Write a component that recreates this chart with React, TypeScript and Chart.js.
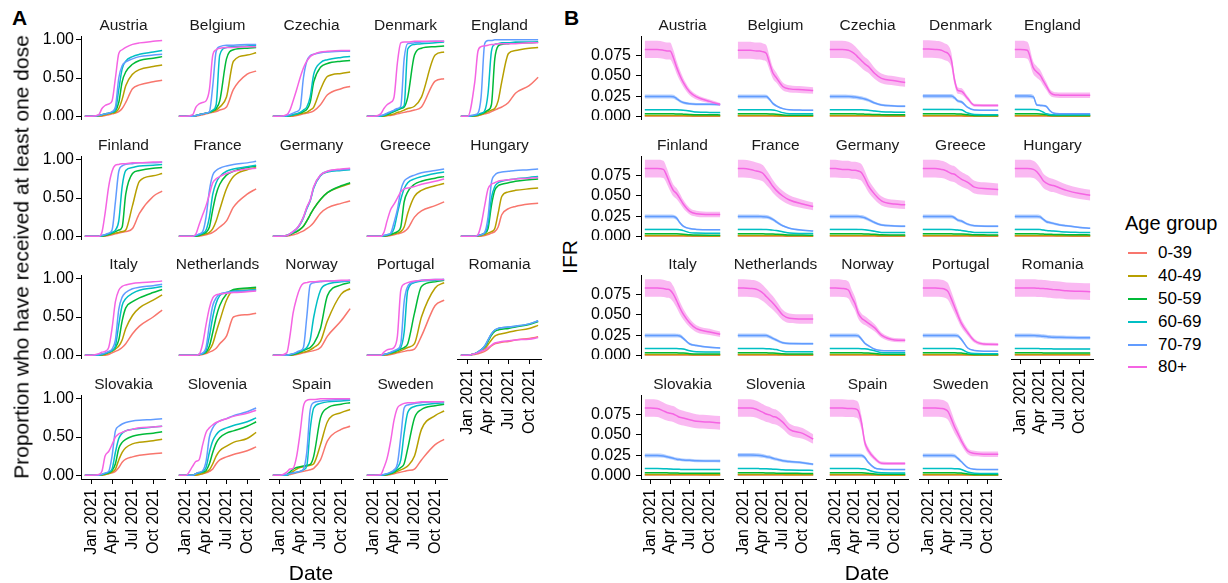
import React, { useEffect, useRef } from "react";
import { Chart, registerables } from "chart.js";

Chart.register(...registerables);

const FONT = "'Liberation Sans', Arial, Helvetica, sans-serif";
Chart.defaults.font.family = FONT;

// ---------- categories ----------
const AGE_GROUPS = ["0-39", "40-49", "50-59", "60-69", "70-79", "80+"];
const AGE_COLORS = ["#F8766D", "#B79F00", "#00BA38", "#00BFC4", "#619CFF", "#F564E3"];
const RIBBON_COLORS = [
  "rgba(248,118,109,0.45)",
  "rgba(183,159,0,0.45)",
  "rgba(0,186,56,0.45)",
  "rgba(0,191,196,0.45)",
  "rgba(97,156,255,0.45)",
  "rgba(245,100,227,0.45)",
];
const COUNTRIES = [
  "Austria", "Belgium", "Czechia", "Denmark", "England",
  "Finland", "France", "Germany", "Greece", "Hungary",
  "Italy", "Netherlands", "Norway", "Portugal", "Romania",
  "Slovakia", "Slovenia", "Spain", "Sweden",
];

// ---------- ticks (x in days since 1 Jan 2021) ----------
const X_TICKS = [0, 90, 181, 273];
const X_TICK_LABELS = ["Jan 2021", "Apr 2021", "Jul 2021", "Oct 2021"];
const Y_TICKS_A = [0, 0.25, 0.5, 0.75, 1];
const Y_TICKS_B = [0, 0.025, 0.05, 0.075];

// ---------- sample dates (days since 1 Jan 2021) ----------
const DAYS_A = [-31, 0, 31, 45, 59, 75, 90, 105, 120, 135, 151, 181, 212, 273, 313];
const DAYS_B = [-27, 0, 31, 59, 75, 90, 105, 120, 135, 151, 181, 212, 273, 322];

// relative half-width of the IFR uncertainty band per age group
const IFR_BAND_REL = [0.2, 0.15, 0.1, 0.08, 0.1, 0.13];

// ---------- Panel A: proportion with at least one dose [0-39,40-49,50-59,60-69,70-79,80+] ----------
const A_AUSTRIA = [
  [0, 0, 0, 0, 0.01, 0.02, 0.03, 0.04, 0.06, 0.10, 0.18, 0.36, 0.41, 0.45, 0.47],
  [0, 0, 0, 0.01, 0.02, 0.03, 0.04, 0.05, 0.10, 0.22, 0.40, 0.55, 0.61, 0.65, 0.67],
  [0, 0, 0.01, 0.02, 0.03, 0.04, 0.05, 0.07, 0.18, 0.45, 0.58, 0.68, 0.73, 0.76, 0.78],
  [0, 0, 0.01, 0.02, 0.03, 0.04, 0.05, 0.08, 0.35, 0.62, 0.72, 0.78, 0.81, 0.84, 0.86],
  [0, 0, 0.01, 0.02, 0.03, 0.04, 0.06, 0.12, 0.50, 0.66, 0.71, 0.75, 0.78, 0.80, 0.81],
  [0, 0, 0.02, 0.10, 0.14, 0.16, 0.20, 0.50, 0.82, 0.87, 0.90, 0.94, 0.96, 0.98, 0.99],
];
const A_BELGIUM = [
  [0, 0, 0, 0, 0.01, 0.02, 0.03, 0.04, 0.05, 0.06, 0.08, 0.12, 0.35, 0.55, 0.59],
  [0, 0, 0, 0.01, 0.02, 0.03, 0.04, 0.05, 0.06, 0.08, 0.12, 0.25, 0.72, 0.80, 0.83],
  [0, 0, 0, 0.01, 0.02, 0.03, 0.04, 0.05, 0.07, 0.10, 0.20, 0.75, 0.87, 0.89, 0.90],
  [0, 0, 0, 0.01, 0.02, 0.03, 0.04, 0.05, 0.08, 0.15, 0.80, 0.90, 0.91, 0.92, 0.93],
  [0, 0, 0, 0.01, 0.02, 0.03, 0.04, 0.06, 0.40, 0.85, 0.91, 0.93, 0.93, 0.94, 0.94],
  [0, 0, 0.02, 0.12, 0.16, 0.18, 0.20, 0.35, 0.80, 0.87, 0.89, 0.90, 0.90, 0.91, 0.91],
];
const A_CZECHIA = [
  [0, 0, 0, 0, 0, 0.01, 0.02, 0.03, 0.04, 0.05, 0.07, 0.15, 0.28, 0.36, 0.39],
  [0, 0, 0, 0, 0.01, 0.02, 0.03, 0.04, 0.05, 0.08, 0.12, 0.35, 0.52, 0.56, 0.58],
  [0, 0, 0, 0.01, 0.02, 0.03, 0.04, 0.06, 0.09, 0.18, 0.45, 0.64, 0.69, 0.72, 0.73],
  [0, 0, 0, 0.01, 0.02, 0.03, 0.05, 0.08, 0.12, 0.25, 0.55, 0.70, 0.74, 0.77, 0.78],
  [0, 0, 0.01, 0.02, 0.04, 0.06, 0.10, 0.50, 0.72, 0.79, 0.81, 0.83, 0.84, 0.85, 0.85],
  [0, 0, 0.02, 0.08, 0.20, 0.35, 0.50, 0.63, 0.72, 0.78, 0.81, 0.84, 0.85, 0.86, 0.86],
];
const A_DENMARK = [
  [0, 0, 0, 0, 0.01, 0.01, 0.02, 0.03, 0.04, 0.05, 0.06, 0.08, 0.12, 0.46, 0.49],
  [0, 0, 0, 0, 0.01, 0.02, 0.03, 0.05, 0.06, 0.08, 0.10, 0.13, 0.25, 0.80, 0.84],
  [0, 0, 0, 0.01, 0.02, 0.04, 0.06, 0.08, 0.10, 0.12, 0.25, 0.80, 0.89, 0.91, 0.92],
  [0, 0, 0, 0.01, 0.03, 0.05, 0.07, 0.09, 0.11, 0.14, 0.88, 0.94, 0.95, 0.96, 0.97],
  [0, 0, 0.01, 0.02, 0.04, 0.06, 0.08, 0.10, 0.13, 0.75, 0.95, 0.96, 0.97, 0.98, 0.98],
  [0, 0, 0.03, 0.10, 0.15, 0.18, 0.25, 0.70, 0.96, 0.97, 0.97, 0.98, 0.98, 0.98, 0.98],
];
const A_ENGLAND = [
  [0, 0, 0, 0.01, 0.02, 0.03, 0.04, 0.06, 0.08, 0.10, 0.12, 0.18, 0.30, 0.40, 0.51],
  [0, 0, 0, 0.01, 0.02, 0.04, 0.06, 0.08, 0.10, 0.20, 0.45, 0.82, 0.86, 0.89, 0.90],
  [0, 0, 0.01, 0.02, 0.03, 0.05, 0.08, 0.15, 0.75, 0.92, 0.94, 0.95, 0.96, 0.96, 0.97],
  [0, 0, 0.01, 0.02, 0.04, 0.07, 0.30, 0.85, 0.94, 0.95, 0.96, 0.96, 0.97, 0.97, 0.97],
  [0, 0, 0.02, 0.04, 0.25, 0.95, 0.99, 0.99, 1.0, 1.0, 1.0, 1.0, 1.0, 1.0, 1.0],
  [0, 0, 0.45, 0.85, 0.91, 0.92, 0.93, 0.94, 0.94, 0.95, 0.95, 0.95, 0.95, 0.96, 0.96],
];
const A_FINLAND = [
  [0, 0, 0, 0, 0, 0.01, 0.02, 0.03, 0.04, 0.05, 0.06, 0.10, 0.30, 0.52, 0.59],
  [0, 0, 0, 0, 0.01, 0.02, 0.03, 0.04, 0.05, 0.06, 0.08, 0.40, 0.72, 0.79, 0.82],
  [0, 0, 0, 0, 0.01, 0.02, 0.04, 0.06, 0.08, 0.12, 0.55, 0.82, 0.86, 0.89, 0.90],
  [0, 0, 0, 0.01, 0.02, 0.03, 0.05, 0.08, 0.20, 0.65, 0.86, 0.90, 0.92, 0.93, 0.94],
  [0, 0, 0, 0.01, 0.02, 0.04, 0.08, 0.45, 0.85, 0.92, 0.94, 0.95, 0.96, 0.96, 0.97],
  [0, 0, 0, 0.05, 0.30, 0.65, 0.85, 0.93, 0.94, 0.95, 0.95, 0.96, 0.96, 0.97, 0.97],
];
const A_FRANCE = [
  [0, 0, 0, 0, 0, 0.01, 0.02, 0.03, 0.05, 0.08, 0.12, 0.20, 0.38, 0.55, 0.62],
  [0, 0, 0, 0, 0.01, 0.02, 0.03, 0.05, 0.10, 0.20, 0.35, 0.62, 0.78, 0.87, 0.90],
  [0, 0, 0, 0, 0.01, 0.03, 0.05, 0.12, 0.35, 0.55, 0.68, 0.80, 0.85, 0.90, 0.92],
  [0, 0, 0, 0.01, 0.02, 0.04, 0.08, 0.25, 0.55, 0.70, 0.78, 0.85, 0.88, 0.91, 0.93],
  [0, 0, 0, 0.01, 0.03, 0.06, 0.25, 0.60, 0.80, 0.86, 0.89, 0.92, 0.94, 0.96, 0.98],
  [0, 0, 0, 0.03, 0.15, 0.28, 0.40, 0.55, 0.70, 0.75, 0.78, 0.82, 0.85, 0.88, 0.89],
];
const A_GERMANY = [
  [0, 0, 0, 0.01, 0.02, 0.03, 0.05, 0.07, 0.10, 0.13, 0.18, 0.30, 0.37, 0.43, 0.46],
  [0, 0, 0.01, 0.02, 0.04, 0.06, 0.09, 0.13, 0.20, 0.28, 0.36, 0.48, 0.57, 0.65, 0.69],
  [0, 0, 0.01, 0.02, 0.04, 0.06, 0.09, 0.13, 0.20, 0.28, 0.36, 0.48, 0.57, 0.66, 0.70],
  [0, 0, 0.01, 0.03, 0.05, 0.09, 0.15, 0.24, 0.36, 0.46, 0.63, 0.79, 0.84, 0.86, 0.87],
  [0, 0, 0.01, 0.03, 0.06, 0.10, 0.16, 0.25, 0.37, 0.47, 0.64, 0.80, 0.85, 0.87, 0.88],
  [0, 0, 0.01, 0.03, 0.06, 0.10, 0.16, 0.25, 0.38, 0.47, 0.65, 0.80, 0.85, 0.88, 0.89],
];
const A_GREECE = [
  [0, 0, 0, 0, 0, 0.01, 0.02, 0.03, 0.04, 0.06, 0.10, 0.25, 0.33, 0.40, 0.45],
  [0, 0, 0, 0, 0.01, 0.02, 0.03, 0.04, 0.06, 0.12, 0.30, 0.52, 0.60, 0.66, 0.69],
  [0, 0, 0, 0, 0.01, 0.02, 0.04, 0.06, 0.12, 0.45, 0.58, 0.68, 0.72, 0.76, 0.78],
  [0, 0, 0, 0.01, 0.02, 0.03, 0.10, 0.30, 0.48, 0.62, 0.70, 0.75, 0.78, 0.82, 0.84],
  [0, 0, 0, 0.01, 0.02, 0.04, 0.18, 0.35, 0.60, 0.72, 0.76, 0.80, 0.83, 0.86, 0.88],
  [0, 0, 0, 0.05, 0.20, 0.35, 0.42, 0.50, 0.58, 0.62, 0.63, 0.65, 0.68, 0.72, 0.75],
];
const A_HUNGARY = [
  [0, 0, 0, 0, 0, 0.01, 0.02, 0.04, 0.06, 0.12, 0.28, 0.36, 0.39, 0.42, 0.43],
  [0, 0, 0, 0, 0.01, 0.02, 0.04, 0.06, 0.10, 0.30, 0.52, 0.58, 0.60, 0.62, 0.63],
  [0, 0, 0, 0.01, 0.02, 0.04, 0.10, 0.40, 0.60, 0.66, 0.68, 0.70, 0.72, 0.74, 0.75],
  [0, 0, 0, 0.01, 0.02, 0.04, 0.15, 0.50, 0.65, 0.70, 0.72, 0.74, 0.75, 0.77, 0.78],
  [0, 0, 0, 0.01, 0.02, 0.05, 0.25, 0.70, 0.80, 0.83, 0.84, 0.85, 0.86, 0.87, 0.88],
  [0, 0, 0, 0.02, 0.15, 0.40, 0.62, 0.68, 0.70, 0.72, 0.73, 0.74, 0.75, 0.76, 0.77],
];
const A_ITALY = [
  [0, 0, 0, 0, 0, 0.01, 0.03, 0.05, 0.07, 0.10, 0.15, 0.28, 0.38, 0.50, 0.59],
  [0, 0, 0, 0, 0.01, 0.03, 0.05, 0.08, 0.12, 0.20, 0.35, 0.52, 0.62, 0.72, 0.79],
  [0, 0, 0, 0.01, 0.02, 0.04, 0.06, 0.10, 0.20, 0.45, 0.62, 0.70, 0.75, 0.82, 0.86],
  [0, 0, 0, 0.01, 0.02, 0.04, 0.06, 0.12, 0.40, 0.65, 0.74, 0.81, 0.85, 0.88, 0.90],
  [0, 0, 0.01, 0.02, 0.03, 0.05, 0.08, 0.20, 0.60, 0.76, 0.82, 0.87, 0.89, 0.91, 0.93],
  [0, 0, 0.02, 0.04, 0.05, 0.10, 0.35, 0.70, 0.85, 0.90, 0.92, 0.94, 0.95, 0.96, 0.97],
];
const A_NETHERLANDS = [
  [0, 0, 0, 0, 0, 0.01, 0.02, 0.04, 0.06, 0.09, 0.15, 0.25, 0.50, 0.53, 0.55],
  [0, 0, 0, 0, 0.01, 0.02, 0.03, 0.07, 0.15, 0.30, 0.45, 0.72, 0.85, 0.87, 0.87],
  [0, 0, 0, 0, 0.01, 0.02, 0.04, 0.12, 0.30, 0.50, 0.65, 0.80, 0.86, 0.88, 0.89],
  [0, 0, 0, 0, 0.01, 0.02, 0.06, 0.25, 0.50, 0.68, 0.78, 0.82, 0.84, 0.85, 0.86],
  [0, 0, 0, 0, 0.01, 0.03, 0.10, 0.40, 0.65, 0.75, 0.80, 0.82, 0.83, 0.84, 0.85],
  [0, 0, 0, 0, 0.01, 0.15, 0.40, 0.62, 0.75, 0.79, 0.80, 0.81, 0.82, 0.83, 0.84],
];
const A_NORWAY = [
  [0, 0, 0, 0, 0, 0.01, 0.02, 0.03, 0.04, 0.05, 0.06, 0.10, 0.25, 0.45, 0.61],
  [0, 0, 0, 0, 0.01, 0.02, 0.03, 0.04, 0.05, 0.07, 0.10, 0.18, 0.45, 0.80, 0.87],
  [0, 0, 0, 0, 0.01, 0.02, 0.04, 0.06, 0.08, 0.10, 0.15, 0.35, 0.78, 0.92, 0.95],
  [0, 0, 0, 0.01, 0.02, 0.03, 0.05, 0.07, 0.10, 0.20, 0.50, 0.85, 0.93, 0.96, 0.97],
  [0, 0, 0, 0.01, 0.02, 0.04, 0.06, 0.10, 0.50, 0.92, 0.95, 0.96, 0.97, 0.97, 0.98],
  [0, 0, 0.03, 0.25, 0.55, 0.75, 0.88, 0.94, 0.95, 0.96, 0.96, 0.97, 0.97, 0.98, 0.98],
];
const A_PORTUGAL = [
  [0, 0, 0, 0, 0, 0.01, 0.02, 0.03, 0.04, 0.05, 0.06, 0.08, 0.25, 0.65, 0.72],
  [0, 0, 0, 0, 0.01, 0.02, 0.03, 0.04, 0.06, 0.08, 0.10, 0.15, 0.50, 0.88, 0.95],
  [0, 0, 0, 0.01, 0.02, 0.03, 0.04, 0.06, 0.08, 0.10, 0.15, 0.55, 0.90, 0.96, 0.98],
  [0, 0, 0, 0.01, 0.02, 0.03, 0.05, 0.07, 0.10, 0.30, 0.85, 0.95, 0.97, 0.98, 0.99],
  [0, 0, 0, 0.01, 0.02, 0.04, 0.06, 0.08, 0.15, 0.70, 0.90, 0.96, 0.98, 0.99, 0.99],
  [0, 0, 0, 0.04, 0.07, 0.08, 0.10, 0.25, 0.85, 0.93, 0.95, 0.97, 0.98, 0.99, 0.99],
];
const A_ROMANIA = [
  [0, 0, 0.01, 0.02, 0.03, 0.05, 0.08, 0.12, 0.15, 0.16, 0.17, 0.18, 0.20, 0.22, 0.24],
  [0, 0, 0.02, 0.03, 0.05, 0.08, 0.14, 0.20, 0.25, 0.27, 0.28, 0.30, 0.32, 0.35, 0.39],
  [0, 0, 0.02, 0.04, 0.07, 0.11, 0.18, 0.26, 0.31, 0.33, 0.34, 0.35, 0.37, 0.40, 0.44],
  [0, 0, 0.02, 0.04, 0.07, 0.12, 0.20, 0.28, 0.33, 0.35, 0.36, 0.37, 0.38, 0.41, 0.45],
  [0, 0, 0.02, 0.04, 0.07, 0.12, 0.20, 0.28, 0.33, 0.35, 0.36, 0.37, 0.38, 0.41, 0.45],
  [0, 0, 0.02, 0.03, 0.05, 0.07, 0.10, 0.13, 0.16, 0.17, 0.18, 0.19, 0.20, 0.21, 0.23],
];
const A_SLOVAKIA = [
  [0, 0, 0, 0, 0.01, 0.02, 0.03, 0.05, 0.10, 0.17, 0.21, 0.24, 0.26, 0.28, 0.29],
  [0, 0, 0, 0, 0.01, 0.02, 0.04, 0.08, 0.20, 0.30, 0.36, 0.41, 0.43, 0.45, 0.47],
  [0, 0, 0, 0.01, 0.02, 0.03, 0.06, 0.15, 0.35, 0.43, 0.47, 0.51, 0.53, 0.55, 0.57],
  [0, 0, 0, 0.01, 0.02, 0.04, 0.08, 0.30, 0.48, 0.55, 0.58, 0.60, 0.61, 0.63, 0.64],
  [0, 0, 0, 0.01, 0.03, 0.05, 0.25, 0.58, 0.64, 0.67, 0.69, 0.71, 0.72, 0.73, 0.74],
  [0, 0, 0.01, 0.05, 0.25, 0.31, 0.40, 0.50, 0.54, 0.56, 0.58, 0.60, 0.62, 0.63, 0.64],
];
const A_SLOVENIA = [
  [0, 0, 0, 0, 0.01, 0.02, 0.03, 0.05, 0.08, 0.15, 0.20, 0.24, 0.27, 0.32, 0.37],
  [0, 0, 0, 0, 0.01, 0.02, 0.04, 0.07, 0.15, 0.25, 0.32, 0.38, 0.43, 0.48, 0.56],
  [0, 0, 0, 0.02, 0.03, 0.04, 0.06, 0.15, 0.30, 0.42, 0.49, 0.55, 0.58, 0.64, 0.70],
  [0, 0, 0, 0.02, 0.03, 0.05, 0.10, 0.30, 0.45, 0.53, 0.58, 0.62, 0.65, 0.70, 0.75],
  [0, 0, 0, 0.02, 0.04, 0.06, 0.18, 0.50, 0.62, 0.68, 0.71, 0.74, 0.78, 0.83, 0.88],
  [0, 0, 0.12, 0.18, 0.20, 0.40, 0.56, 0.62, 0.66, 0.69, 0.71, 0.74, 0.77, 0.81, 0.85],
];
const A_SPAIN = [
  [0, 0, 0, 0.01, 0.02, 0.03, 0.04, 0.05, 0.06, 0.07, 0.09, 0.20, 0.45, 0.60, 0.64],
  [0, 0, 0, 0.02, 0.05, 0.08, 0.10, 0.11, 0.12, 0.13, 0.15, 0.40, 0.70, 0.82, 0.86],
  [0, 0, 0.01, 0.04, 0.08, 0.10, 0.11, 0.12, 0.13, 0.14, 0.25, 0.75, 0.88, 0.93, 0.95],
  [0, 0, 0, 0.02, 0.03, 0.04, 0.05, 0.07, 0.12, 0.60, 0.88, 0.94, 0.96, 0.97, 0.98],
  [0, 0, 0.01, 0.02, 0.03, 0.04, 0.05, 0.08, 0.30, 0.85, 0.95, 0.97, 0.98, 0.99, 0.99],
  [0, 0, 0.04, 0.08, 0.09, 0.25, 0.55, 0.90, 0.98, 0.99, 0.99, 1.0, 1.0, 1.0, 1.0],
];
const A_SWEDEN = [
  [0, 0, 0, 0, 0, 0.01, 0.02, 0.03, 0.04, 0.05, 0.06, 0.08, 0.20, 0.40, 0.47],
  [0, 0, 0, 0, 0.01, 0.02, 0.03, 0.05, 0.07, 0.09, 0.12, 0.25, 0.60, 0.78, 0.84],
  [0, 0, 0, 0, 0.01, 0.02, 0.04, 0.07, 0.10, 0.15, 0.35, 0.75, 0.86, 0.91, 0.93],
  [0, 0, 0, 0.01, 0.02, 0.03, 0.05, 0.10, 0.20, 0.55, 0.82, 0.90, 0.92, 0.94, 0.95],
  [0, 0, 0, 0.01, 0.02, 0.04, 0.07, 0.15, 0.50, 0.88, 0.92, 0.94, 0.95, 0.96, 0.96],
  [0, 0, 0.01, 0.10, 0.22, 0.45, 0.72, 0.88, 0.92, 0.94, 0.95, 0.95, 0.96, 0.96, 0.96],
];

// ---------- Panel B: IFR [0-39,40-49,50-59,60-69,70-79,80+] ----------
const B_AUSTRIA = [
  [0.0002, 0.0002, 0.0002, 0.0002, 0.0002, 0.0002, 0.0002, 0.0002, 0.0002, 0.0002, 0.0002, 0.0001, 0.0001, 0.0001],
  [0.0009, 0.0009, 0.0009, 0.0009, 0.0009, 0.0009, 0.0009, 0.0009, 0.0009, 0.0008, 0.0007, 0.0006, 0.0005, 0.0005],
  [0.0030, 0.0030, 0.0030, 0.0030, 0.0030, 0.0030, 0.0030, 0.0029, 0.0028, 0.0026, 0.0022, 0.0019, 0.0018, 0.0017],
  [0.0082, 0.0082, 0.0082, 0.0082, 0.0082, 0.0082, 0.0081, 0.0080, 0.0078, 0.0075, 0.0065, 0.0052, 0.0048, 0.0047],
  [0.0245, 0.0245, 0.0245, 0.0245, 0.0245, 0.0245, 0.0243, 0.0220, 0.0190, 0.0170, 0.0155, 0.0150, 0.0148, 0.0145],
  [0.0830, 0.0830, 0.0830, 0.0820, 0.0810, 0.0810, 0.0730, 0.0610, 0.0510, 0.0420, 0.0300, 0.0240, 0.0185, 0.0145],
];
const B_BELGIUM = [
  [0.0002, 0.0002, 0.0002, 0.0002, 0.0002, 0.0002, 0.0002, 0.0002, 0.0002, 0.0002, 0.0001, 0.0001, 0.0001, 0.0001],
  [0.0009, 0.0009, 0.0009, 0.0009, 0.0009, 0.0009, 0.0009, 0.0009, 0.0008, 0.0007, 0.0005, 0.0004, 0.0004, 0.0004],
  [0.0030, 0.0030, 0.0030, 0.0030, 0.0030, 0.0030, 0.0030, 0.0029, 0.0027, 0.0024, 0.0016, 0.0013, 0.0012, 0.0012],
  [0.0082, 0.0082, 0.0082, 0.0082, 0.0082, 0.0082, 0.0082, 0.0081, 0.0078, 0.0070, 0.0045, 0.0032, 0.0030, 0.0030],
  [0.0245, 0.0245, 0.0245, 0.0245, 0.0245, 0.0245, 0.0244, 0.0210, 0.0160, 0.0130, 0.0095, 0.0080, 0.0076, 0.0075],
  [0.0820, 0.0820, 0.0820, 0.0810, 0.0810, 0.0800, 0.0780, 0.0660, 0.0540, 0.0480, 0.0370, 0.0340, 0.0330, 0.0320],
];
const B_CZECHIA = [
  [0.0002, 0.0002, 0.0002, 0.0002, 0.0002, 0.0002, 0.0002, 0.0002, 0.0002, 0.0002, 0.0002, 0.0002, 0.0001, 0.0001],
  [0.0009, 0.0009, 0.0009, 0.0009, 0.0009, 0.0009, 0.0009, 0.0009, 0.0009, 0.0008, 0.0007, 0.0006, 0.0006, 0.0006],
  [0.0030, 0.0030, 0.0030, 0.0030, 0.0030, 0.0030, 0.0029, 0.0028, 0.0026, 0.0024, 0.0021, 0.0020, 0.0019, 0.0019],
  [0.0082, 0.0082, 0.0082, 0.0082, 0.0082, 0.0082, 0.0081, 0.0080, 0.0078, 0.0075, 0.0065, 0.0055, 0.0051, 0.0050],
  [0.0245, 0.0245, 0.0245, 0.0244, 0.0242, 0.0238, 0.0232, 0.0225, 0.0215, 0.0200, 0.0165, 0.0140, 0.0128, 0.0123],
  [0.0830, 0.0830, 0.0830, 0.0820, 0.0800, 0.0770, 0.0730, 0.0690, 0.0650, 0.0620, 0.0530, 0.0470, 0.0440, 0.0420],
];
const B_DENMARK = [
  [0.0002, 0.0002, 0.0002, 0.0002, 0.0002, 0.0002, 0.0002, 0.0002, 0.0002, 0.0002, 0.0001, 0.0001, 0.0001, 0.0001],
  [0.0009, 0.0009, 0.0009, 0.0009, 0.0009, 0.0009, 0.0009, 0.0009, 0.0009, 0.0009, 0.0007, 0.0004, 0.0003, 0.0003],
  [0.0030, 0.0030, 0.0030, 0.0030, 0.0030, 0.0030, 0.0030, 0.0030, 0.0029, 0.0028, 0.0018, 0.0010, 0.0009, 0.0009],
  [0.0085, 0.0085, 0.0085, 0.0085, 0.0085, 0.0085, 0.0085, 0.0084, 0.0083, 0.0080, 0.0040, 0.0022, 0.0020, 0.0020],
  [0.0250, 0.0250, 0.0250, 0.0250, 0.0250, 0.0250, 0.0250, 0.0230, 0.0190, 0.0180, 0.0110, 0.0078, 0.0075, 0.0075],
  [0.0835, 0.0835, 0.0830, 0.0820, 0.0800, 0.0780, 0.0700, 0.0450, 0.0320, 0.0310, 0.0220, 0.0137, 0.0135, 0.0135],
];
const B_ENGLAND = [
  [0.0002, 0.0002, 0.0002, 0.0002, 0.0002, 0.0002, 0.0002, 0.0002, 0.0001, 0.0001, 0.0001, 0.0001, 0.0001, 0.0001],
  [0.0009, 0.0009, 0.0009, 0.0009, 0.0009, 0.0009, 0.0009, 0.0008, 0.0007, 0.0005, 0.0004, 0.0003, 0.0003, 0.0003],
  [0.0030, 0.0030, 0.0030, 0.0030, 0.0030, 0.0029, 0.0026, 0.0020, 0.0012, 0.0010, 0.0009, 0.0009, 0.0009, 0.0009],
  [0.0085, 0.0085, 0.0085, 0.0084, 0.0082, 0.0070, 0.0050, 0.0030, 0.0022, 0.0020, 0.0020, 0.0020, 0.0020, 0.0020],
  [0.0250, 0.0250, 0.0250, 0.0240, 0.0140, 0.0135, 0.0132, 0.0120, 0.0070, 0.0040, 0.0030, 0.0030, 0.0030, 0.0030],
  [0.0830, 0.0830, 0.0820, 0.0600, 0.0550, 0.0510, 0.0440, 0.0370, 0.0300, 0.0270, 0.0262, 0.0260, 0.0260, 0.0260],
];
const B_FINLAND = [
  [0.0002, 0.0002, 0.0002, 0.0002, 0.0002, 0.0002, 0.0002, 0.0002, 0.0002, 0.0002, 0.0002, 0.0001, 0.0001, 0.0001],
  [0.0009, 0.0009, 0.0009, 0.0009, 0.0009, 0.0009, 0.0009, 0.0009, 0.0009, 0.0008, 0.0007, 0.0005, 0.0004, 0.0004],
  [0.0030, 0.0030, 0.0030, 0.0030, 0.0030, 0.0030, 0.0030, 0.0030, 0.0029, 0.0026, 0.0018, 0.0014, 0.0013, 0.0013],
  [0.0085, 0.0085, 0.0085, 0.0085, 0.0085, 0.0085, 0.0085, 0.0085, 0.0082, 0.0070, 0.0045, 0.0040, 0.0038, 0.0038],
  [0.0245, 0.0245, 0.0245, 0.0245, 0.0245, 0.0245, 0.0244, 0.0225, 0.0170, 0.0125, 0.0095, 0.0085, 0.0080, 0.0080],
  [0.0840, 0.0840, 0.0840, 0.0830, 0.0750, 0.0650, 0.0570, 0.0530, 0.0470, 0.0400, 0.0310, 0.0280, 0.0270, 0.0270],
];
const B_FRANCE = [
  [0.0002, 0.0002, 0.0002, 0.0002, 0.0002, 0.0002, 0.0002, 0.0002, 0.0002, 0.0002, 0.0002, 0.0001, 0.0001, 0.0001],
  [0.0009, 0.0009, 0.0009, 0.0009, 0.0009, 0.0009, 0.0009, 0.0009, 0.0009, 0.0008, 0.0008, 0.0006, 0.0005, 0.0004],
  [0.0030, 0.0030, 0.0030, 0.0030, 0.0030, 0.0030, 0.0029, 0.0028, 0.0027, 0.0025, 0.0021, 0.0016, 0.0014, 0.0013],
  [0.0085, 0.0085, 0.0085, 0.0085, 0.0085, 0.0084, 0.0083, 0.0080, 0.0076, 0.0070, 0.0055, 0.0040, 0.0035, 0.0033],
  [0.0245, 0.0245, 0.0245, 0.0245, 0.0244, 0.0243, 0.0240, 0.0230, 0.0210, 0.0180, 0.0130, 0.0100, 0.0075, 0.0065],
  [0.0840, 0.0840, 0.0830, 0.0810, 0.0800, 0.0780, 0.0730, 0.0680, 0.0620, 0.0570, 0.0500, 0.0450, 0.0400, 0.0370],
];
const B_GERMANY = [
  [0.0002, 0.0002, 0.0002, 0.0002, 0.0002, 0.0002, 0.0002, 0.0002, 0.0002, 0.0002, 0.0002, 0.0001, 0.0001, 0.0001],
  [0.0009, 0.0009, 0.0009, 0.0009, 0.0009, 0.0009, 0.0009, 0.0009, 0.0009, 0.0009, 0.0008, 0.0006, 0.0005, 0.0005],
  [0.0030, 0.0030, 0.0030, 0.0030, 0.0030, 0.0030, 0.0030, 0.0030, 0.0029, 0.0028, 0.0024, 0.0018, 0.0016, 0.0016],
  [0.0085, 0.0085, 0.0085, 0.0085, 0.0085, 0.0085, 0.0084, 0.0083, 0.0080, 0.0075, 0.0062, 0.0048, 0.0045, 0.0045],
  [0.0245, 0.0245, 0.0245, 0.0245, 0.0245, 0.0245, 0.0244, 0.0240, 0.0230, 0.0210, 0.0170, 0.0140, 0.0128, 0.0124],
  [0.0840, 0.0840, 0.0830, 0.0830, 0.0820, 0.0820, 0.0810, 0.0790, 0.0720, 0.0630, 0.0520, 0.0440, 0.0400, 0.0390],
];
const B_GREECE = [
  [0.0002, 0.0002, 0.0002, 0.0002, 0.0002, 0.0002, 0.0002, 0.0002, 0.0002, 0.0002, 0.0002, 0.0002, 0.0001, 0.0001],
  [0.0009, 0.0009, 0.0009, 0.0009, 0.0009, 0.0009, 0.0009, 0.0009, 0.0009, 0.0009, 0.0008, 0.0007, 0.0006, 0.0006],
  [0.0030, 0.0030, 0.0030, 0.0030, 0.0030, 0.0030, 0.0030, 0.0029, 0.0028, 0.0027, 0.0024, 0.0019, 0.0017, 0.0016],
  [0.0085, 0.0085, 0.0085, 0.0085, 0.0085, 0.0085, 0.0084, 0.0082, 0.0078, 0.0072, 0.0060, 0.0048, 0.0045, 0.0045],
  [0.0245, 0.0245, 0.0245, 0.0245, 0.0245, 0.0245, 0.0244, 0.0230, 0.0200, 0.0190, 0.0150, 0.0130, 0.0125, 0.0124],
  [0.0840, 0.0840, 0.0840, 0.0830, 0.0820, 0.0800, 0.0780, 0.0770, 0.0740, 0.0710, 0.0670, 0.0610, 0.0590, 0.0580],
];
const B_HUNGARY = [
  [0.0002, 0.0002, 0.0002, 0.0002, 0.0002, 0.0002, 0.0002, 0.0002, 0.0002, 0.0002, 0.0002, 0.0002, 0.0001, 0.0001],
  [0.0009, 0.0009, 0.0009, 0.0009, 0.0009, 0.0009, 0.0009, 0.0009, 0.0008, 0.0008, 0.0007, 0.0007, 0.0006, 0.0006],
  [0.0030, 0.0030, 0.0030, 0.0030, 0.0030, 0.0029, 0.0027, 0.0025, 0.0024, 0.0023, 0.0021, 0.0019, 0.0018, 0.0017],
  [0.0085, 0.0085, 0.0085, 0.0085, 0.0085, 0.0083, 0.0078, 0.0072, 0.0068, 0.0065, 0.0058, 0.0052, 0.0048, 0.0045],
  [0.0245, 0.0245, 0.0245, 0.0245, 0.0245, 0.0240, 0.0210, 0.0180, 0.0170, 0.0160, 0.0140, 0.0130, 0.0110, 0.0100],
  [0.0840, 0.0840, 0.0840, 0.0830, 0.0800, 0.0750, 0.0690, 0.0660, 0.0640, 0.0630, 0.0600, 0.0570, 0.0530, 0.0510],
];
const B_ITALY = [
  [0.0002, 0.0002, 0.0002, 0.0002, 0.0002, 0.0002, 0.0002, 0.0002, 0.0002, 0.0002, 0.0002, 0.0001, 0.0001, 0.0001],
  [0.0009, 0.0009, 0.0009, 0.0009, 0.0009, 0.0009, 0.0009, 0.0009, 0.0009, 0.0009, 0.0007, 0.0005, 0.0005, 0.0005],
  [0.0030, 0.0030, 0.0030, 0.0030, 0.0030, 0.0030, 0.0030, 0.0030, 0.0029, 0.0028, 0.0020, 0.0015, 0.0014, 0.0014],
  [0.0083, 0.0083, 0.0083, 0.0083, 0.0083, 0.0083, 0.0083, 0.0083, 0.0081, 0.0078, 0.0055, 0.0042, 0.0040, 0.0040],
  [0.0245, 0.0245, 0.0245, 0.0245, 0.0245, 0.0245, 0.0245, 0.0244, 0.0240, 0.0210, 0.0140, 0.0120, 0.0098, 0.0090],
  [0.0835, 0.0835, 0.0835, 0.0830, 0.0820, 0.0810, 0.0760, 0.0680, 0.0590, 0.0510, 0.0400, 0.0330, 0.0290, 0.0260],
];
const B_NETHERLANDS = [
  [0.0002, 0.0002, 0.0002, 0.0002, 0.0002, 0.0002, 0.0002, 0.0002, 0.0002, 0.0002, 0.0002, 0.0001, 0.0001, 0.0001],
  [0.0009, 0.0009, 0.0009, 0.0009, 0.0009, 0.0009, 0.0009, 0.0009, 0.0009, 0.0008, 0.0006, 0.0005, 0.0005, 0.0005],
  [0.0030, 0.0030, 0.0030, 0.0030, 0.0030, 0.0030, 0.0030, 0.0029, 0.0028, 0.0026, 0.0019, 0.0015, 0.0014, 0.0014],
  [0.0083, 0.0083, 0.0083, 0.0083, 0.0083, 0.0083, 0.0082, 0.0080, 0.0076, 0.0070, 0.0050, 0.0043, 0.0042, 0.0042],
  [0.0245, 0.0245, 0.0245, 0.0245, 0.0245, 0.0245, 0.0244, 0.0230, 0.0210, 0.0190, 0.0155, 0.0145, 0.0144, 0.0144],
  [0.0835, 0.0835, 0.0830, 0.0820, 0.0800, 0.0770, 0.0730, 0.0690, 0.0650, 0.0600, 0.0500, 0.0460, 0.0450, 0.0450],
];
const B_NORWAY = [
  [0.0002, 0.0002, 0.0002, 0.0002, 0.0002, 0.0002, 0.0002, 0.0002, 0.0002, 0.0002, 0.0002, 0.0001, 0.0001, 0.0001],
  [0.0009, 0.0009, 0.0009, 0.0009, 0.0009, 0.0009, 0.0009, 0.0009, 0.0009, 0.0009, 0.0008, 0.0005, 0.0004, 0.0004],
  [0.0030, 0.0030, 0.0030, 0.0030, 0.0030, 0.0030, 0.0030, 0.0030, 0.0029, 0.0028, 0.0022, 0.0013, 0.0011, 0.0011],
  [0.0083, 0.0083, 0.0083, 0.0083, 0.0083, 0.0083, 0.0083, 0.0082, 0.0080, 0.0075, 0.0055, 0.0035, 0.0030, 0.0030],
  [0.0245, 0.0245, 0.0245, 0.0245, 0.0245, 0.0245, 0.0240, 0.0200, 0.0150, 0.0120, 0.0075, 0.0060, 0.0055, 0.0055],
  [0.0835, 0.0835, 0.0830, 0.0810, 0.0720, 0.0640, 0.0520, 0.0460, 0.0430, 0.0400, 0.0340, 0.0250, 0.0190, 0.0185],
];
const B_PORTUGAL = [
  [0.0002, 0.0002, 0.0002, 0.0002, 0.0002, 0.0002, 0.0002, 0.0002, 0.0002, 0.0002, 0.0002, 0.0001, 0.0001, 0.0001],
  [0.0009, 0.0009, 0.0009, 0.0009, 0.0009, 0.0009, 0.0009, 0.0009, 0.0009, 0.0009, 0.0007, 0.0004, 0.0003, 0.0003],
  [0.0030, 0.0030, 0.0030, 0.0030, 0.0030, 0.0030, 0.0030, 0.0030, 0.0029, 0.0027, 0.0014, 0.0009, 0.0008, 0.0008],
  [0.0083, 0.0083, 0.0083, 0.0083, 0.0083, 0.0083, 0.0083, 0.0083, 0.0080, 0.0075, 0.0035, 0.0022, 0.0020, 0.0020],
  [0.0245, 0.0245, 0.0245, 0.0245, 0.0245, 0.0245, 0.0245, 0.0245, 0.0240, 0.0200, 0.0090, 0.0060, 0.0050, 0.0050],
  [0.0835, 0.0835, 0.0835, 0.0830, 0.0820, 0.0790, 0.0700, 0.0600, 0.0500, 0.0400, 0.0280, 0.0180, 0.0136, 0.0135],
];
const B_ROMANIA = [
  [0.0002, 0.0002, 0.0002, 0.0002, 0.0002, 0.0002, 0.0002, 0.0002, 0.0002, 0.0002, 0.0002, 0.0002, 0.0002, 0.0002],
  [0.0009, 0.0009, 0.0009, 0.0009, 0.0009, 0.0009, 0.0009, 0.0009, 0.0009, 0.0009, 0.0009, 0.0008, 0.0008, 0.0008],
  [0.0030, 0.0030, 0.0030, 0.0030, 0.0030, 0.0030, 0.0029, 0.0029, 0.0029, 0.0028, 0.0028, 0.0028, 0.0027, 0.0027],
  [0.0083, 0.0083, 0.0083, 0.0083, 0.0083, 0.0082, 0.0081, 0.0080, 0.0080, 0.0079, 0.0079, 0.0078, 0.0078, 0.0078],
  [0.0245, 0.0245, 0.0245, 0.0244, 0.0243, 0.0240, 0.0236, 0.0232, 0.0228, 0.0225, 0.0222, 0.0220, 0.0218, 0.0218],
  [0.0835, 0.0835, 0.0835, 0.0834, 0.0833, 0.0830, 0.0828, 0.0825, 0.0820, 0.0815, 0.0810, 0.0800, 0.0795, 0.0790],
];
const B_SLOVAKIA = [
  [0.0002, 0.0002, 0.0002, 0.0002, 0.0002, 0.0002, 0.0002, 0.0002, 0.0002, 0.0002, 0.0002, 0.0002, 0.0002, 0.0002],
  [0.0009, 0.0009, 0.0009, 0.0009, 0.0009, 0.0009, 0.0009, 0.0008, 0.0008, 0.0008, 0.0008, 0.0008, 0.0007, 0.0007],
  [0.0030, 0.0030, 0.0030, 0.0030, 0.0030, 0.0029, 0.0028, 0.0027, 0.0026, 0.0026, 0.0025, 0.0025, 0.0024, 0.0024],
  [0.0083, 0.0083, 0.0083, 0.0082, 0.0080, 0.0078, 0.0076, 0.0074, 0.0073, 0.0072, 0.0071, 0.0070, 0.0070, 0.0070],
  [0.0245, 0.0245, 0.0245, 0.0240, 0.0230, 0.0220, 0.0210, 0.0200, 0.0195, 0.0190, 0.0185, 0.0180, 0.0178, 0.0177],
  [0.0835, 0.0835, 0.0830, 0.0800, 0.0780, 0.0770, 0.0760, 0.0740, 0.0720, 0.0710, 0.0690, 0.0670, 0.0660, 0.0650],
];
const B_SLOVENIA = [
  [0.0002, 0.0002, 0.0002, 0.0002, 0.0002, 0.0002, 0.0002, 0.0002, 0.0002, 0.0002, 0.0002, 0.0002, 0.0002, 0.0002],
  [0.0009, 0.0009, 0.0009, 0.0009, 0.0009, 0.0009, 0.0009, 0.0009, 0.0008, 0.0008, 0.0008, 0.0007, 0.0007, 0.0006],
  [0.0030, 0.0030, 0.0030, 0.0030, 0.0030, 0.0030, 0.0029, 0.0028, 0.0027, 0.0026, 0.0025, 0.0024, 0.0023, 0.0022],
  [0.0083, 0.0083, 0.0083, 0.0083, 0.0082, 0.0081, 0.0080, 0.0078, 0.0075, 0.0073, 0.0068, 0.0065, 0.0062, 0.0060],
  [0.0250, 0.0250, 0.0250, 0.0248, 0.0245, 0.0240, 0.0230, 0.0225, 0.0210, 0.0200, 0.0180, 0.0170, 0.0155, 0.0136],
  [0.0835, 0.0835, 0.0835, 0.0820, 0.0800, 0.0780, 0.0760, 0.0750, 0.0730, 0.0720, 0.0660, 0.0570, 0.0520, 0.0450],
];
const B_SPAIN = [
  [0.0002, 0.0002, 0.0002, 0.0002, 0.0002, 0.0002, 0.0002, 0.0002, 0.0002, 0.0002, 0.0002, 0.0001, 0.0001, 0.0001],
  [0.0009, 0.0009, 0.0009, 0.0009, 0.0009, 0.0009, 0.0009, 0.0009, 0.0009, 0.0008, 0.0006, 0.0004, 0.0004, 0.0004],
  [0.0030, 0.0030, 0.0030, 0.0030, 0.0030, 0.0030, 0.0030, 0.0030, 0.0029, 0.0025, 0.0016, 0.0012, 0.0011, 0.0011],
  [0.0083, 0.0083, 0.0083, 0.0083, 0.0083, 0.0083, 0.0083, 0.0082, 0.0079, 0.0065, 0.0040, 0.0030, 0.0028, 0.0028],
  [0.0245, 0.0245, 0.0245, 0.0245, 0.0245, 0.0245, 0.0245, 0.0244, 0.0220, 0.0160, 0.0090, 0.0075, 0.0070, 0.0070],
  [0.0835, 0.0835, 0.0835, 0.0830, 0.0830, 0.0825, 0.0800, 0.0650, 0.0410, 0.0310, 0.0210, 0.0150, 0.0145, 0.0145],
];
const B_SWEDEN = [
  [0.0002, 0.0002, 0.0002, 0.0002, 0.0002, 0.0002, 0.0002, 0.0002, 0.0002, 0.0002, 0.0002, 0.0001, 0.0001, 0.0001],
  [0.0009, 0.0009, 0.0009, 0.0009, 0.0009, 0.0009, 0.0009, 0.0009, 0.0009, 0.0009, 0.0007, 0.0004, 0.0003, 0.0003],
  [0.0030, 0.0030, 0.0030, 0.0030, 0.0030, 0.0030, 0.0030, 0.0030, 0.0029, 0.0027, 0.0016, 0.0010, 0.0009, 0.0009],
  [0.0083, 0.0083, 0.0083, 0.0083, 0.0083, 0.0083, 0.0083, 0.0082, 0.0080, 0.0072, 0.0040, 0.0025, 0.0022, 0.0022],
  [0.0245, 0.0245, 0.0245, 0.0245, 0.0245, 0.0245, 0.0245, 0.0240, 0.0210, 0.0170, 0.0095, 0.0075, 0.0070, 0.0070],
  [0.0835, 0.0835, 0.0835, 0.0830, 0.0820, 0.0790, 0.0700, 0.0600, 0.0520, 0.0430, 0.0300, 0.0270, 0.0260, 0.0260],
];

const DATA_A = [
  A_AUSTRIA, A_BELGIUM, A_CZECHIA, A_DENMARK, A_ENGLAND,
  A_FINLAND, A_FRANCE, A_GERMANY, A_GREECE, A_HUNGARY,
  A_ITALY, A_NETHERLANDS, A_NORWAY, A_PORTUGAL, A_ROMANIA,
  A_SLOVAKIA, A_SLOVENIA, A_SPAIN, A_SWEDEN,
];
const DATA_B = [
  B_AUSTRIA, B_BELGIUM, B_CZECHIA, B_DENMARK, B_ENGLAND,
  B_FINLAND, B_FRANCE, B_GERMANY, B_GREECE, B_HUNGARY,
  B_ITALY, B_NETHERLANDS, B_NORWAY, B_PORTUGAL, B_ROMANIA,
  B_SLOVAKIA, B_SLOVENIA, B_SPAIN, B_SWEDEN,
];

// ---------- layout ----------
const ROW_TOP = 36;
const ROW_STEP = 119.5;
const PLOT_H = 84;
const STRIP_H = 30;
const X_AXIS_H = 92;
const PANEL_A = { left: 81, step: 94, w: 85, yAxisW: 52, decimals: 2, tickPad: 2 };
const PANEL_B = { left: 641, step: 92.5, w: 83, yAxisW: 60, decimals: 3, tickPad: 5 };
const TICK_FONT = { size: 16, family: FONT };

function expand(lo, hi) {
  const pad = (hi - lo) * 0.05;
  return [lo - pad, hi + pad];
}

const X_RANGE_A = expand(DAYS_A[0], DAYS_A[DAYS_A.length - 1]);
const X_RANGE_B = expand(DAYS_B[0], DAYS_B[DAYS_B.length - 1]);
const Y_RANGE_A = (() => {
  const all = DATA_A.flat(2);
  return expand(Math.min(...all), Math.max(...all));
})();
const Y_RANGE_B = (() => {
  let lo = Infinity, hi = -Infinity;
  DATA_B.forEach((c) => c.forEach((s, g) => s.forEach((v) => {
    lo = Math.min(lo, v * (1 - IFR_BAND_REL[g]));
    hi = Math.max(hi, v * (1 + IFR_BAND_REL[g]));
  })));
  return expand(lo, hi);
})();

const stripPlugin = {
  id: "strip",
  afterDraw(chart, _args, opts) {
    const { ctx, chartArea } = chart;
    ctx.save();
    ctx.font = `15.5px ${FONT}`;
    ctx.fillStyle = "#1a1a1a";
    ctx.textAlign = "center";
    ctx.textBaseline = "alphabetic";
    ctx.fillText(opts.text, (chartArea.left + chartArea.right) / 2, chartArea.top - 6);
    ctx.restore();
  },
};

function toPoints(days, vals) {
  return days.map((d, i) => ({ x: d, y: vals[i] }));
}

function buildDatasets(panel, series) {
  const days = panel === "A" ? DAYS_A : DAYS_B;
  const ds = [];
  const common = { pointRadius: 0, pointHoverRadius: 0, cubicInterpolationMode: "monotone" };
  if (panel === "B") {
    series.forEach((vals, g) => {
      const rel = IFR_BAND_REL[g];
      ds.push({
        ...common,
        data: toPoints(days, vals.map((v) => v * (1 + rel))),
        borderWidth: 0,
        borderColor: "rgba(0,0,0,0)",
        fill: false,
        order: 30 - g,
      });
      ds.push({
        ...common,
        data: toPoints(days, vals.map((v) => v * (1 - rel))),
        borderWidth: 0,
        borderColor: "rgba(0,0,0,0)",
        backgroundColor: RIBBON_COLORS[g],
        fill: "-1",
        order: 30 - g,
      });
    });
  }
  series.forEach((vals, g) => {
    ds.push({
      ...common,
      label: AGE_GROUPS[g],
      data: toPoints(days, vals),
      borderColor: AGE_COLORS[g],
      borderWidth: 1.5,
      fill: false,
      order: 10 - g,
    });
  });
  return ds;
}

function Facet({ f }) {
  const ref = useRef(null);
  const P = f.panel === "A" ? PANEL_A : PANEL_B;
  const plotLeft = Math.round(P.left + P.step * f.col);
  const plotTop = Math.round(ROW_TOP + ROW_STEP * f.row);
  const yW = f.showY ? P.yAxisW : 0;
  const xH = f.showX ? X_AXIS_H : 0;
  const left = plotLeft - yW;
  const top = plotTop - STRIP_H;
  const width = P.w + yW;
  const height = PLOT_H + STRIP_H + xH;

  useEffect(() => {
    const xRange = f.panel === "A" ? X_RANGE_A : X_RANGE_B;
    const yRange = f.panel === "A" ? Y_RANGE_A : Y_RANGE_B;
    const yTicks = f.panel === "A" ? Y_TICKS_A : Y_TICKS_B;
    const chart = new Chart(ref.current, {
      type: "line",
      data: { datasets: buildDatasets(f.panel, f.series) },
      plugins: [stripPlugin],
      options: {
        responsive: false,
        animation: false,
        events: [],
        devicePixelRatio: 1,
        layout: { padding: { top: STRIP_H, left: 0, right: 0, bottom: 0 }, autoPadding: false },
        plugins: {
          legend: { display: false },
          tooltip: { enabled: false },
          strip: { text: f.country },
        },
        scales: {
          x: {
            type: "linear",
            display: f.showX,
            min: xRange[0],
            max: xRange[1],
            afterBuildTicks: (s) => { s.ticks = X_TICKS.map((v) => ({ value: v })); },
            afterFit: (s) => {
              s.height = f.showX ? X_AXIS_H : 0;
              s.paddingLeft = 0;
              s.paddingRight = 0;
            },
            ticks: {
              autoSkip: false,
              minRotation: 90,
              maxRotation: 90,
              padding: 5,
              color: "#000",
              font: TICK_FONT,
              callback: (v) => X_TICK_LABELS[X_TICKS.indexOf(Number(v))],
            },
            grid: { display: true, drawOnChartArea: false, drawTicks: true, tickLength: 5, tickColor: "#000", tickWidth: 1 },
            border: { display: true, color: "#000", width: 1 },
          },
          y: {
            type: "linear",
            display: f.showY,
            min: yRange[0],
            max: yRange[1],
            afterBuildTicks: (s) => { s.ticks = yTicks.map((v) => ({ value: v })); },
            afterFit: (s) => {
              s.width = f.showY ? P.yAxisW : 0;
              s.paddingTop = 0;
              s.paddingBottom = 0;
            },
            ticks: {
              padding: P.tickPad,
              color: "#000",
              font: TICK_FONT,
              callback: (v) => Number(v).toFixed(P.decimals),
            },
            grid: { display: true, drawOnChartArea: false, drawTicks: true, tickLength: 5, tickColor: "#000", tickWidth: 1 },
            border: { display: true, color: "#000", width: 1 },
          },
        },
      },
    });
    return () => chart.destroy();
  }, []);

  return (
    <canvas
      ref={ref}
      width={width}
      height={height}
      style={{ position: "absolute", left, top, width, height }}
    />
  );
}

export default function App() {
  const facets = [];
  COUNTRIES.forEach((c, i) => {
    const row = Math.floor(i / 5);
    const col = i % 5;
    const bottom = row === 3 || (row === 2 && col === 4);
    facets.push({ key: "A" + c, panel: "A", row, col, country: c, series: DATA_A[i], showX: bottom, showY: col === 0 });
    facets.push({ key: "B" + c, panel: "B", row, col, country: c, series: DATA_B[i], showX: bottom, showY: col === 0 });
  });

  const title = { position: "absolute", fontSize: 21, lineHeight: "21px", whiteSpace: "nowrap", color: "#000" };

  return (
    <div style={{ position: "absolute", left: 0, top: 0, width: 1228, height: 583, background: "#fff", fontFamily: FONT, overflow: "hidden" }}>
      {facets.map((f) => <Facet key={f.key} f={f} />)}

      <div style={{ position: "absolute", left: 12, top: 7, fontSize: 21, lineHeight: "21px", fontWeight: "bold" }}>A</div>
      <div style={{ position: "absolute", left: 564, top: 7, fontSize: 21, lineHeight: "21px", fontWeight: "bold" }}>B</div>

      <div style={{ ...title, left: 21, top: 257, transform: "translate(-50%, -50%) rotate(-90deg)" }}>
        Proportion who have received at least one dose
      </div>
      <div style={{ ...title, left: 569, top: 257, transform: "translate(-50%, -50%) rotate(-90deg)" }}>IFR</div>
      <div style={{ ...title, left: 311, top: 572, transform: "translate(-50%, -50%)" }}>Date</div>
      <div style={{ ...title, left: 867, top: 572, transform: "translate(-50%, -50%)" }}>Date</div>

      <div style={{ position: "absolute", left: 1125, top: 212 }}>
        <div style={{ fontSize: 20, lineHeight: "22px" }}>Age group</div>
        <div style={{ marginTop: 8 }}>
          {AGE_GROUPS.map((g, i) => (
            <div key={g} style={{ display: "flex", alignItems: "center", height: 22.8 }}>
              <span style={{ display: "inline-block", width: 19, height: 2, background: AGE_COLORS[i], marginLeft: 3, marginRight: 11 }} />
              <span style={{ fontSize: 17 }}>{g}</span>
            </div>
          ))}
        </div>
      </div>
    </div>
  );
}
